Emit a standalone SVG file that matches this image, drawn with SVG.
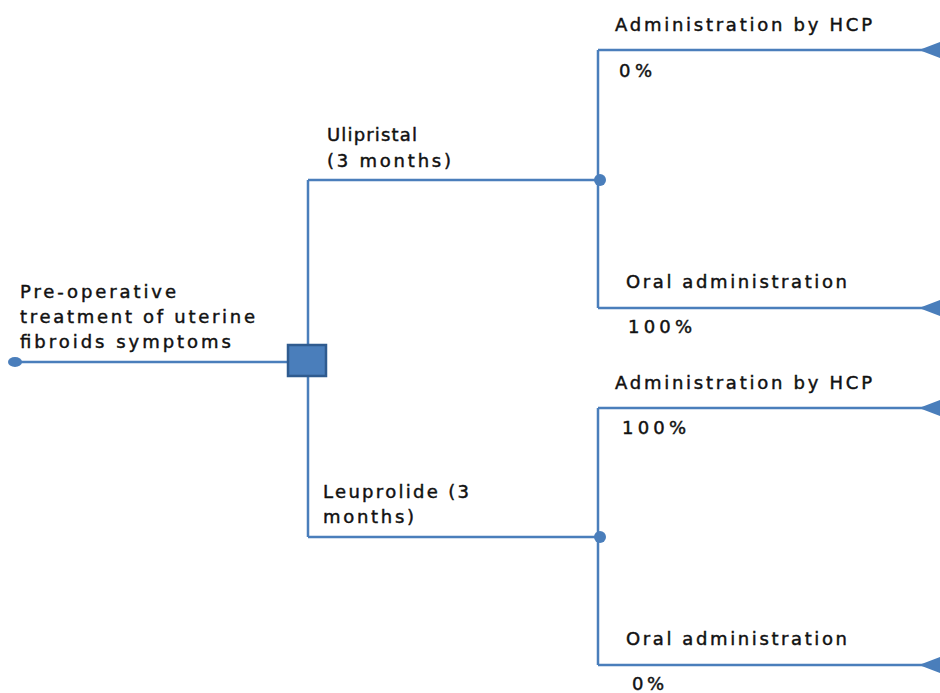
<svg xmlns="http://www.w3.org/2000/svg" width="940" height="693" viewBox="0 0 940 693">
<style>
.ln{stroke:#4a7ebb;stroke-width:2.5;fill:none}
.t{font-family:"DejaVu Sans",sans-serif;font-size:18px;fill:#111;stroke:#111;stroke-width:0.45}
.tri{fill:#4a7ebb}
.dot{fill:#4a7ebb}
</style>
<rect width="940" height="693" fill="#fff"/>
<g id="connectors">
<path class="ln" d="M16,362 H290"/>
<path class="ln" d="M308,180 V345 M308,376 V537"/>
<path class="ln" d="M308,180 H600"/>
<path class="ln" d="M308,537 H600"/>
<path class="ln" d="M598,50 V308"/>
<path class="ln" d="M598,408 V665"/>
<path class="ln" d="M598,50 H925"/>
<path class="ln" d="M598,308 H925"/>
<path class="ln" d="M598,408 H925"/>
<path class="ln" d="M598,665 H925"/>
</g>
<g id="root">
<ellipse class="dot" cx="15" cy="362" rx="7" ry="5"/>
<text class="t"><tspan x="20" y="298" textLength="156" lengthAdjust="spacing">Pre-operative</tspan><tspan x="20" y="323" textLength="235" lengthAdjust="spacing">treatment of uterine</tspan><tspan x="20" y="348" textLength="211" lengthAdjust="spacing">fibroids symptoms</tspan></text>
</g>
<g id="decision">
<rect x="288" y="345" width="38" height="31" fill="#4a7ebb" stroke="#2f5b8f" stroke-width="2.5"/>
</g>
<g id="ulipristal">
<circle class="dot" cx="600" cy="180" r="6"/>
<text class="t"><tspan x="327" y="141" textLength="90" lengthAdjust="spacing">Ulipristal</tspan><tspan x="327" y="167" textLength="124" lengthAdjust="spacing">(3 months)</tspan></text>
</g>
<g id="leuprolide">
<circle class="dot" cx="600" cy="537" r="6"/>
<text class="t"><tspan x="323" y="498" textLength="146" lengthAdjust="spacing">Leuprolide (3</tspan><tspan x="323" y="523" textLength="91" lengthAdjust="spacing">months)</tspan></text>
</g>
<g id="u-hcp">
<polygon class="tri" points="919,50 940,42 940,58"/>
<text class="t" x="615" y="31" textLength="257" lengthAdjust="spacing">Administration by HCP</text>
<text class="t" x="619" y="77" textLength="33" lengthAdjust="spacing">0%</text>
</g>
<g id="u-oral">
<polygon class="tri" points="919,308 940,300 940,316"/>
<text class="t" x="626" y="288" textLength="221" lengthAdjust="spacing">Oral administration</text>
<text class="t" x="628" y="333" textLength="64" lengthAdjust="spacing">100%</text>
</g>
<g id="l-hcp">
<polygon class="tri" points="919,408 940,400 940,416"/>
<text class="t" x="615" y="389" textLength="257" lengthAdjust="spacing">Administration by HCP</text>
<text class="t" x="622" y="434" textLength="64" lengthAdjust="spacing">100%</text>
</g>
<g id="l-oral">
<polygon class="tri" points="919,665 940,657 940,673"/>
<text class="t" x="626" y="645" textLength="221" lengthAdjust="spacing">Oral administration</text>
<text class="t" x="632" y="690" textLength="32" lengthAdjust="spacing">0%</text>
</g>
</svg>
